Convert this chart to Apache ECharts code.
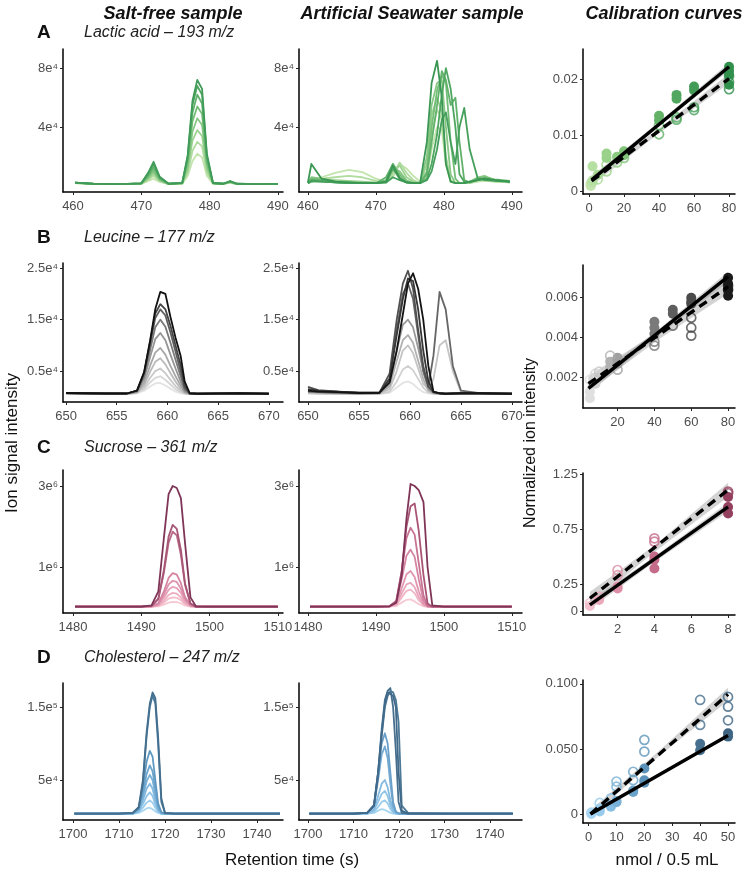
<!DOCTYPE html>
<html><head><meta charset="utf-8">
<script src="https://cdn.jsdelivr.net/npm/echarts@6/dist/echarts.min.js"></script>
<style>html,body{margin:0;padding:0;background:#fff}#c{width:750px;height:874px}</style>
</head><body><div id="c"></div><script>
// ---------------- DATA ----------------
// Row A: Lactic acid (193 m/z)
const A1_x = [460.3,463,467,470,471,471.8,472.7,474,476,476.8,477.5,478.2,478.9,479.6,480.5,482,483,484,487,490];
const A1_y = [
 [2000,1400,1300,1500,3500,5000,2800,1400,1600,7000,17000,22000,19500,7000,1700,1500,2200,1400,1300,1400],
 [2100,1400,1300,1600,4200,7000,3300,1400,1700,9000,24000,30000,27000,9000,1800,1500,2500,1400,1300,1400],
 [2200,1500,1300,1700,5000,8500,3800,1500,1800,11000,31000,38000,34000,11500,1800,1500,2600,1500,1300,1400],
 [2200,1500,1300,1700,5800,10000,4200,1500,1900,13500,37000,46000,41500,13800,1900,1500,2800,1500,1300,1500],
 [2300,1500,1400,1800,6500,11500,4700,1500,2000,16000,44000,54000,49000,16000,2000,1600,3000,1500,1400,1500],
 [2300,1500,1400,1800,7300,13000,5200,1600,2100,18000,50000,62000,56000,18500,2000,1600,3100,1500,1400,1500],
 [2400,1600,1400,1900,8200,15000,5800,1600,2200,20000,55000,68000,62000,20500,2100,1600,3300,1600,1400,1500],
 [2400,1600,1400,1900,9000,16500,6300,1600,2200,21000,58000,72000,66000,22000,2100,1600,3400,1600,1400,1500]
];
const A1_colors = ['#c3e4ad','#b1dca0','#9dd292','#88c884','#74bd77','#62b26c','#4fa661','#3f9b57'];

const A2_x = [460,460.5,462,464,466,468,470,471.5,472.5,473.5,474.5,475.5,476.5,477.5,478.2,479,479.7,480.3,481,481.7,482.3,483,483.8,485,486,487.5,489.7];
const A2_y = [
 [3000,4000,6000,9000,11000,9500,5000,3000,6000,15000,12000,7000,3000,6000,25000,40000,38000,15000,3000,2000,2000,2000,2000,3000,3500,3000,2500],
 [2500,3500,5000,6000,7000,6000,3500,2500,8000,16000,9000,4000,2000,9000,35000,52000,45000,15000,3000,2000,2000,2000,2000,4000,5000,3000,2500],
 [2000,3000,4000,4000,3500,3000,2500,2500,10000,14000,6000,3000,2000,15000,48000,60000,50000,20000,4000,2000,2000,2000,2500,5000,6000,3500,2500],
 [2500,6000,5000,3500,3000,2500,2000,3000,12000,10000,4000,2000,2000,20000,55000,70000,72000,40000,8000,2000,2000,2000,3000,6000,7000,4000,3000],
 [2000,5000,4500,3000,2500,2000,2000,4000,15000,8000,3000,2000,2000,10000,40000,65000,75000,70000,30000,5000,2000,2000,3000,5000,6000,4500,3500],
 [2000,3000,3000,2500,2000,2000,2000,6000,15000,6000,2500,2000,2000,8000,30000,55000,78000,72000,55000,60000,30000,4000,2500,5000,5000,4000,3000],
 [2000,4000,3500,2500,2000,2000,2000,2500,12000,5000,2500,2000,2000,5000,15000,35000,62000,80000,66000,40000,8000,3000,2500,4000,5000,4000,3000],
 [2000,3500,3000,2500,2000,2000,2000,2500,6000,4000,2500,2000,2000,4000,10000,25000,45000,50000,30000,15000,40000,53000,25000,5000,4000,3500,3000],
 [2500,15000,5000,3000,2500,2000,2000,3000,14000,5000,2500,2000,2000,30000,70000,85000,60000,15000,3000,2000,2000,2000,3000,4000,5000,4000,3000]
];
const A2_colors = ['#c3e4ad','#b1dca0','#9dd292','#88c884','#74bd77','#62b26c','#4fa661','#45a05c','#3a9653'];

const A3_levels = [1,2,5,10,16,20,40,50,60,80];
const A3_colors = ['#c3e4ad','#b6dfa2','#a9d997','#9bd28b','#8ecb82','#80c379','#63b268','#51a75f','#429c57','#32904d'];
const A3_filled = [[1,0.0015],[1,0.001],[2,0.0045],[2,0.002],[5,0.003],[10,0.0068],[10,0.006],[16,0.0062],[20,0.0072],[20,0.0065],[40,0.0135],[40,0.0127],[50,0.0172],[50,0.0165],[60,0.0187],[60,0.018],[80,0.0222],[80,0.0215],[80,0.0208],[80,0.019]];
const A3_hollow = [[1,0.0012],[2,0.0018],[5,0.0022],[10,0.0036],[10,0.0048],[16,0.0052],[20,0.006],[40,0.0102],[40,0.0118],[50,0.0128],[50,0.0132],[60,0.015],[60,0.0145],[80,0.0195],[80,0.0182],[80,0.0205]];
const A3_solid = [[1.5,0.0021],[80,0.0222]];
const A3_dash = [[1.5,0.0019],[80,0.0201]];
const A3_solidBand = {up:[[1.5,0.0028],[40,0.0124],[80,0.0229]], lo:[[1.5,0.0014],[40,0.0117],[80,0.0215]]};
const A3_dashBand = {up:[[1.5,0.0027],[40,0.0112],[80,0.021]], lo:[[1.5,0.0011],[40,0.0104],[80,0.0192]]};

// Row B: Leucine (177 m/z)
const B1_x = [650,652,654,656,657,657.7,658.3,658.8,659.3,659.8,660.3,660.8,661.3,661.7,662.2,663,665,667,670];
const B1_y = [
 [700,600,650,600,700,1200,2000,2600,2700,2200,1600,1000,700,600,550,600,600,650,600],
 [700,650,650,600,750,1500,2800,3700,4000,3300,2400,1500,900,650,550,600,600,650,600],
 [700,650,650,600,800,1800,3700,5000,5500,4600,3300,2100,1200,700,550,600,600,650,600],
 [700,650,650,600,850,2300,4900,6800,7500,6300,4600,3000,1600,800,550,600,600,650,600],
 [700,650,650,600,900,2800,6100,8600,9500,8200,6000,4000,2200,900,600,600,650,650,600],
 [700,650,650,650,1000,3500,7800,11200,12400,11000,8200,5500,3000,1100,600,600,650,650,600],
 [750,650,650,650,1100,4000,9200,13500,15000,13600,10500,7200,4000,1400,650,600,650,650,600],
 [750,700,650,650,1200,4500,10300,15300,17000,15800,12500,8800,5000,1700,650,600,650,700,600],
 [750,700,650,650,1200,4700,10800,16200,18000,17000,13800,10000,6200,2200,700,600,650,700,600],
 [750,700,650,650,1200,4800,11000,17000,20400,20000,15500,11500,8000,3000,700,600,650,700,600]
];
const B1_colors = ['#e3e3e3','#d6d6d6','#c9c9c9','#bababa','#a8a8a8','#959595','#7a7a7a','#5e5e5e','#444444','#111111'];

const B2_x = [650,651,653,655,657,658,658.7,659.3,659.8,660.3,660.8,661.3,661.8,662.3,662.9,663.5,664.2,665,667,670];
const B2_y = [
 [700,600,600,600,600,800,1800,2700,3000,2500,1600,900,700,600,600,600,600,600,600,600],
 [800,700,650,600,600,1000,3000,5300,6000,5200,3500,1800,800,600,600,600,600,600,600,600],
 [700,650,600,600,650,1500,5000,9000,10000,8500,5500,2500,1500,3500,10000,11000,5000,900,600,600],
 [900,800,700,650,700,2000,7000,11000,12000,10500,7000,3500,1200,700,600,600,600,600,650,600],
 [1100,900,800,700,700,2500,9000,14000,15000,13500,9500,5000,1500,800,600,600,600,650,650,600],
 [1000,900,800,700,750,3500,13000,20000,22000,19000,12000,5000,2000,8000,20400,17000,6000,1200,650,600],
 [1950,1300,1000,800,800,4500,15000,22000,24500,21000,13000,6000,2000,900,700,600,650,650,700,600],
 [1500,1200,1000,800,800,3500,12000,19000,23000,22500,17000,9000,3000,900,700,600,650,700,700,600],
 [1200,1000,900,750,800,2800,9000,16000,22000,24000,21000,15000,6000,1000,700,600,650,700,700,600]
];
const B2_colors = ['#e3e3e3','#d0d0d0','#c4c4c4','#b0b0b0','#9a9a9a','#666666','#505050','#363636','#141414'];

const B3_levels = [5,8,10,16,20,40,50,60,80];
const B3_colors = ['#e0e0e0','#d2d2d2','#c6c6c6','#b2b2b2','#a0a0a0','#7a7a7a','#5e5e5e','#4a4a4a','#1a1a1a'];
const B3_filled = [[5,0.00097],[5,0.0013],[8,0.0017],[10,0.002],[16,0.0025],[16,0.0028],[20,0.003],[20,0.0027],[40,0.0048],[40,0.0045],[40,0.0042],[50,0.0054],[50,0.0052],[60,0.006],[60,0.0058],[60,0.0057],[80,0.007],[80,0.0067],[80,0.0064],[80,0.0061]];
const B3_hollow = [[5,0.0019],[8,0.0022],[10,0.0023],[16,0.0031],[20,0.0024],[20,0.0029],[40,0.0038],[40,0.0036],[50,0.0046],[60,0.005],[60,0.0045],[60,0.0041],[80,0.0066],[80,0.0064]];
const B3_solid = [[4.2,0.00147],[80,0.00705]];
const B3_dash = [[4.2,0.0017],[80,0.00655]];
const B3_solidBand = {up:[[4.2,0.0018],[42,0.0044],[80,0.0073]], lo:[[4.2,0.0012],[42,0.0041],[80,0.0068]]};
const B3_dashBand = {up:[[4.2,0.0021],[42,0.0043],[80,0.0069]], lo:[[4.2,0.0013],[42,0.0039],[80,0.0062]]};

// Row C: Sucrose (361 m/z), intensities in units of 1e6
const C1_x = [1480.3,1485,1490,1491.5,1492.5,1493.3,1494,1494.6,1495.2,1495.8,1496.4,1497.2,1498,1500,1505,1510];
const C1_y = [
 [0.02,0.02,0.02,0.02,0.03,0.07,0.12,0.14,0.13,0.1,0.05,0.02,0.02,0.02,0.02,0.02],
 [0.02,0.02,0.02,0.02,0.04,0.12,0.22,0.25,0.24,0.18,0.08,0.03,0.02,0.02,0.02,0.02],
 [0.02,0.02,0.02,0.02,0.05,0.17,0.31,0.36,0.34,0.25,0.11,0.03,0.02,0.02,0.02,0.02],
 [0.02,0.02,0.02,0.02,0.06,0.24,0.44,0.51,0.48,0.36,0.16,0.04,0.02,0.02,0.02,0.02],
 [0.02,0.02,0.02,0.03,0.08,0.31,0.57,0.66,0.63,0.46,0.2,0.05,0.02,0.02,0.02,0.02],
 [0.02,0.02,0.02,0.03,0.1,0.39,0.73,0.85,0.81,0.6,0.26,0.06,0.02,0.02,0.02,0.02],
 [0.02,0.02,0.02,0.04,0.2,0.85,1.6,1.87,1.78,1.3,0.56,0.1,0.02,0.02,0.02,0.02],
 [0.02,0.02,0.02,0.04,0.22,0.92,1.75,2.04,1.94,1.42,0.6,0.1,0.02,0.02,0.02,0.02],
 [0.02,0.02,0.02,0.05,0.4,1.7,2.8,3.0,2.95,2.7,1.6,0.25,0.03,0.02,0.02,0.02]
];
const C1_colors = ['#f6c9d3','#f2bccb','#edafc2','#e7a1b8','#df92ad','#d584a2','#b86786','#a85676','#7f3557'];

const C2_x = [1480.3,1485,1490,1492,1493,1493.8,1494.5,1495.1,1495.7,1496.3,1497,1497.6,1498.3,1500,1505,1510];
const C2_y = [
 [0.02,0.02,0.02,0.02,0.04,0.12,0.19,0.2,0.15,0.08,0.03,0.02,0.02,0.02,0.02,0.02],
 [0.02,0.02,0.02,0.02,0.06,0.25,0.41,0.44,0.35,0.18,0.05,0.02,0.02,0.02,0.02,0.02],
 [0.02,0.02,0.02,0.03,0.08,0.35,0.57,0.61,0.5,0.26,0.07,0.02,0.02,0.02,0.02,0.02],
 [0.02,0.02,0.02,0.03,0.1,0.48,0.82,0.9,0.75,0.4,0.1,0.03,0.02,0.02,0.02,0.02],
 [0.02,0.02,0.02,0.03,0.14,0.7,1.28,1.43,1.25,0.7,0.18,0.03,0.02,0.02,0.02,0.02],
 [0.02,0.02,0.02,0.03,0.17,0.9,1.72,1.97,1.8,1.1,0.3,0.04,0.02,0.02,0.02,0.02],
 [0.02,0.02,0.02,0.03,0.15,0.9,2.0,2.5,2.57,1.9,0.8,0.1,0.02,0.02,0.02,0.02],
 [0.02,0.02,0.02,0.03,0.12,0.8,2.2,3.05,3.0,2.9,2.6,1.0,0.05,0.02,0.02,0.02]
];
const C2_colors = ['#f6c9d3','#f0b5c6','#e9a5bb','#e195b0','#d584a2','#c77394','#a95475','#7f3557'];

const C3_levels = [0.5,1,2,4,8];
const C3_colors = ['#f3c0cd','#eaa8bb','#dc8ea6','#c46b8a','#94405f'];
const C3_filled = [[0.5,0.05],[1,0.105],[2,0.225],[2,0.21],[4,0.5],[4,0.47],[4,0.39],[8,1.04],[8,0.95],[8,0.89]];
const C3_hollow = [[0.5,0.077],[1,0.135],[2,0.377],[2,0.33],[4,0.665],[4,0.635],[8,1.09],[8,1.075]];
const C3_solid = [[0.5,0.06],[8,0.95]];
const C3_dash = [[0.5,0.12],[8,1.105]];
const C3_solidBand = {up:[[0.5,0.1],[4,0.5],[8,0.99]], lo:[[0.5,0.02],[4,0.45],[8,0.91]]};
const C3_dashBand = {up:[[0.5,0.18],[4,0.6],[8,1.17]], lo:[[0.5,0.06],[4,0.54],[8,1.04]]};

// Row D: Cholesterol (247 m/z), intensities in units of 1e5
const D1_x = [1700.3,1705,1710,1713,1714.3,1715.2,1716,1716.7,1717.3,1717.9,1718.5,1719.2,1720,1722,1730,1745];
const D1_y = [
 [0.04,0.04,0.04,0.04,0.05,0.08,0.11,0.12,0.1,0.07,0.05,0.04,0.04,0.04,0.04,0.04],
 [0.04,0.04,0.04,0.04,0.06,0.12,0.19,0.22,0.19,0.12,0.06,0.04,0.04,0.04,0.04,0.04],
 [0.04,0.04,0.04,0.04,0.07,0.17,0.28,0.33,0.28,0.17,0.08,0.04,0.04,0.04,0.04,0.04],
 [0.04,0.04,0.04,0.04,0.08,0.22,0.38,0.45,0.38,0.22,0.09,0.04,0.04,0.04,0.04,0.04],
 [0.04,0.04,0.04,0.04,0.09,0.27,0.48,0.57,0.5,0.3,0.11,0.05,0.04,0.04,0.04,0.04],
 [0.04,0.04,0.04,0.04,0.1,0.32,0.58,0.7,0.62,0.38,0.14,0.05,0.04,0.04,0.04,0.04],
 [0.04,0.04,0.04,0.05,0.12,0.4,0.75,0.9,0.82,0.5,0.18,0.06,0.04,0.04,0.04,0.04],
 [0.04,0.04,0.04,0.05,0.12,0.45,1.1,1.5,1.66,1.55,1.0,0.2,0.05,0.04,0.04,0.04],
 [0.04,0.04,0.04,0.05,0.13,0.5,1.15,1.55,1.7,1.62,1.1,0.25,0.05,0.04,0.04,0.04]
];
const D1_colors = ['#a8d6f2','#9ccdec','#90c4e6','#84badf','#78b0d7','#6ca5cd','#5f99c2','#4a7a9c','#456f8e'];

const D2_x = [1700.3,1705,1710,1713,1714.5,1715.4,1716.2,1716.9,1717.5,1718.1,1718.7,1719.3,1719.9,1720.6,1722,1730,1745];
const D2_y = [
 [0.04,0.04,0.04,0.04,0.05,0.08,0.1,0.09,0.07,0.05,0.04,0.04,0.04,0.04,0.04,0.04,0.04],
 [0.04,0.04,0.04,0.04,0.06,0.13,0.2,0.22,0.18,0.1,0.05,0.04,0.04,0.04,0.04,0.04,0.04],
 [0.04,0.04,0.04,0.04,0.08,0.2,0.31,0.35,0.28,0.15,0.07,0.04,0.04,0.04,0.04,0.04,0.04],
 [0.04,0.04,0.04,0.04,0.1,0.28,0.45,0.5,0.4,0.22,0.09,0.05,0.04,0.04,0.04,0.04,0.04],
 [0.04,0.04,0.04,0.05,0.14,0.5,0.85,0.96,0.8,0.45,0.15,0.06,0.04,0.04,0.04,0.04,0.04],
 [0.04,0.04,0.04,0.05,0.16,0.6,1.0,1.14,1.0,0.6,0.2,0.07,0.04,0.04,0.04,0.04,0.04],
 [0.04,0.04,0.04,0.05,0.15,0.6,1.2,1.6,1.72,1.76,1.5,0.9,0.2,0.05,0.04,0.04,0.04],
 [0.04,0.04,0.04,0.05,0.15,0.55,1.1,1.5,1.65,1.72,1.7,1.6,1.3,0.15,0.05,0.04,0.04],
 [0.04,0.04,0.04,0.05,0.15,0.6,1.15,1.55,1.7,1.68,1.65,1.5,0.6,0.08,0.04,0.04,0.04]
];
const D2_colors = ['#a8d6f2','#9ccdec','#90c4e6','#84badf','#74aad3','#6aa0c9','#466f8e','#4d7896','#41698a'];

const D3_levels = [1,4,8,10,16,20,40,50];
const D3_colors = ['#a8d6f2','#98cbec','#86bde2','#78b0d7','#6aa2c9','#5c93ba','#47708f','#3f6583'];
const D3_filled = [[1,0],[1,0.001],[4,0.002],[4,0.004],[8,0.0056],[8,0.007],[10,0.01],[10,0.009],[16,0.018],[16,0.017],[20,0.035],[20,0.024],[20,0.026],[40,0.054],[40,0.049],[50,0.062],[50,0.0595]];
const D3_hollow = [[1,0.001],[4,0.0085],[8,0.012],[10,0.025],[10,0.021],[16,0.0325],[16,0.026],[20,0.057],[20,0.048],[40,0.0877],[40,0.0685],[50,0.09],[50,0.0825],[50,0.072]];
const D3_solid = [[0.7,0],[50,0.0603]];
const D3_dash = [[0.7,0],[50,0.092]];
const D3_solidBand = {up:[[0.7,0.0012],[25,0.0312],[50,0.0618]], lo:[[0.7,-0.0012],[25,0.0292],[50,0.0588]]};
const D3_dashBand = {up:[[0.7,0.003],[25,0.048],[50,0.097]], lo:[[0.7,-0.003],[25,0.044],[50,0.087]]};

// Tick values and labels
const A_xTicks = [460,470,480,490];
const A_yTicks = [40000,80000];       const A_yLabels = ['4e⁴','8e⁴'];
const B_xTicks = [650,655,660,665,670];
const B_yTicks = [5000,15000,25000];  const B_yLabels = ['0.5e⁴','1.5e⁴','2.5e⁴'];
const C_xTicks = [1480,1490,1500,1510];
const C_yTicks = [1,3];               const C_yLabels = ['1e⁶','3e⁶'];
const D_xTicks = [1700,1710,1720,1730,1740];
const D_yTicks = [0.5,1.5];           const D_yLabels = ['5e⁴','1.5e⁵'];
const A3_xTicks = [0,20,40,60,80];    const A3_yTicks = [0,0.01,0.02];   const A3_yLabels = ['0','0.01','0.02'];
const B3_xTicks = [20,40,60,80];      const B3_yTicks = [0.002,0.004,0.006]; const B3_yLabels = ['0.002','0.004','0.006'];
const C3_xTicks = [2,4,6,8];          const C3_yTicks = [0,0.25,0.75,1.25]; const C3_yLabels = ['0','0.25','0.75','1.25'];
const D3_xTicks = [0,10,20,30,40,50]; const D3_yTicks = [0,0.05,0.1]; const D3_yLabels = ['0','0.050','0.100'];

const titles = ['Salt-free sample','Artificial Seawater sample','Calibration curves'];
const rowLetters = ['A','B','C','D'];
const rowNames = ['Lactic acid – 193 m/z','Leucine – 177 m/z','Sucrose – 361 m/z','Cholesterol – 247 m/z'];

// ---------------- BUILD ----------------
const FONT = '"Liberation Sans", Arial, Helvetica, sans-serif';
const grids = [], xAxes = [], yAxes = [], series = [];

function lab(ticks, labels){
  return v => { const i = ticks.findIndex(t => Math.abs(t - v) < 1e-9); return i >= 0 ? (labels ? labels[i] : String(ticks[i])) : ''; };
}
function axis(min, max, ticks, labels, isX){
  return {
    type:'value', min, max,
    axisLine:{show:true, onZero:false, lineStyle:{color:'#000', width:1.5}},
    axisTick:{show:true, length:3, customValues:ticks, lineStyle:{color:'#222', width:1}},
    axisLabel:{show:true, customValues:ticks, formatter:lab(ticks, labels), color:'#4d4d4d', fontSize:13, fontFamily:FONT, margin: isX ? 8 : 5},
    splitLine:{show:false}
  };
}
function panel(rect, xr, yr, xt, xl, yt, yl){
  const i = grids.length;
  grids.push({left:rect[0], top:rect[1], width:rect[2], height:rect[3], containLabel:false});
  const xa = axis(xr[0], xr[1], xt, xl, true); xa.gridIndex = i;
  const ya = axis(yr[0], yr[1], yt, yl, false); ya.gridIndex = i;
  xAxes.push(xa); yAxes.push(ya);
  return i;
}
function traces(i, xs, ys, colors){
  ys.forEach((row, k) => {
    series.push({type:'line', xAxisIndex:i, yAxisIndex:i, data: xs.map((x, j) => [x, row[j]]),
      symbol:'none', showSymbol:false, silent:true, animation:false, z:2+k*0.01,
      lineStyle:{color:colors[k], width:1.8, join:'round'}, itemStyle:{color:colors[k]}});
  });
}
function band(i, b){
  series.push({type:'custom', xAxisIndex:i, yAxisIndex:i, silent:true, animation:false, z:1,
    data:[b.up[0]],
    renderItem:(p, api) => {
      const pts = b.up.map(q => api.coord(q)).concat(b.lo.slice().reverse().map(q => api.coord(q)));
      return {type:'polygon', shape:{points:pts}, style:{fill:'rgba(150,150,150,0.42)'}};
    }});
}
function points(i, pts, levels, colors, hollow){
  levels.forEach((lv, k) => {
    const d = pts.filter(p => p[0] === lv);
    if (!d.length) return;
    series.push({type:'scatter', xAxisIndex:i, yAxisIndex:i, data:d, silent:true, animation:false, z:3,
      symbol:'circle', symbolSize: hollow ? 9 : 10,
      itemStyle: hollow ? {color:'rgba(0,0,0,0)', borderColor:colors[k], borderWidth:1.7}
                        : {color:colors[k], opacity:1}});
  });
}
function reg(i, line, dashed){
  series.push({type:'line', xAxisIndex:i, yAxisIndex:i, data:line, symbol:'none', silent:true, animation:false, z:5,
    lineStyle:{color:'#000', width:3.4, type: dashed ? [9,6] : 'solid', cap:'butt'}});
}

const C1L = 63, C1W = 220, C2L = 299, C2W = 223, C3L = 583, C3W = 152;

// Row A
let p;
p = panel([C1L,49,C1W,143],[458.54,490.75],[-4000,93000],A_xTicks,null,A_yTicks,A_yLabels); traces(p,A1_x,A1_y,A1_colors);
p = panel([C2L,49,C2W,143],[458.68,491.5],[-4000,93000],A_xTicks,null,A_yTicks,A_yLabels); traces(p,A2_x,A2_y,A2_colors);
p = panel([C3L,49,C3W,145],[-3.43,83.4],[-0.00041,0.02535],A3_xTicks,null,A3_yTicks,A3_yLabels);
band(p,A3_solidBand); band(p,A3_dashBand);
points(p,A3_filled,A3_levels,A3_colors,false); points(p,A3_hollow,A3_levels,A3_colors,true);
reg(p,A3_solid,false); reg(p,A3_dash,true);

// Row B
p = panel([C1L,263,C1W,139],[649.7,671.4],[-1000,26000],B_xTicks,null,B_yTicks,B_yLabels); traces(p,B1_x,B1_y,B1_colors);
p = panel([C2L,263,C2W,139],[649.12,670.98],[-1000,26000],B_xTicks,null,B_yTicks,B_yLabels); traces(p,B2_x,B2_y,B2_colors);
p = panel([C3L,265,C3W,143],[1.25,83.75],[0.000485,0.007635],B3_xTicks,null,B3_yTicks,B3_yLabels);
band(p,B3_solidBand); band(p,B3_dashBand);
points(p,B3_filled,B3_levels,B3_colors,false); points(p,B3_hollow,B3_levels,B3_colors,true);
reg(p,B3_solid,false); reg(p,B3_dash,true);

// Row C
p = panel([C1L,470,C1W,143],[1478.54,1510.75],[-0.136,3.395],C_xTicks,null,C_yTicks,C_yLabels); traces(p,C1_x,C1_y,C1_colors);
p = panel([C2L,470,C2W,143],[1478.68,1511.5],[-0.136,3.395],C_xTicks,null,C_yTicks,C_yLabels); traces(p,C2_x,C2_y,C2_colors);
p = panel([C3L,473,C3W,142],[0.125,8.375],[-0.032,1.259],C3_xTicks,null,C3_yTicks,C3_yLabels);
band(p,C3_solidBand); band(p,C3_dashBand);
points(p,C3_filled,C3_levels,C3_colors,false); points(p,C3_hollow,C3_levels,C3_colors,true);
reg(p,C3_solid,false); reg(p,C3_dash,true);

// Row D
p = panel([C1L,683,C1W,137],[1697.83,1745.65],[-0.048,1.829],D_xTicks,null,D_yTicks,D_yLabels); traces(p,D1_x,D1_y,D1_colors);
p = panel([C2L,683,C2W,137],[1698.02,1747.03],[-0.048,1.829],D_xTicks,null,D_yTicks,D_yLabels); traces(p,D2_x,D2_y,D2_colors);
p = panel([C3L,680,C3W,143],[-2,52.5],[-0.0069,0.103],D3_xTicks,null,D3_yTicks,D3_yLabels);
band(p,D3_solidBand); band(p,D3_dashBand);
points(p,D3_filled,D3_levels,D3_colors,false); points(p,D3_hollow,D3_levels,D3_colors,true);
reg(p,D3_solid,false); reg(p,D3_dash,true);

// Text
const graphic = [];
const titleX = [173, 412, 664];
titles.forEach((t, k) => graphic.push({type:'text', x:titleX[k], y:14,
  style:{text:t, fontFamily:FONT, fontSize:18, fontWeight:'bold', fontStyle:'italic', fill:'#111', textAlign:'center', textVerticalAlign:'middle'}}));
const rowY = [33, 238, 448, 658];
rowLetters.forEach((t, k) => {
  graphic.push({type:'text', x:37, y:rowY[k], style:{text:t, fontFamily:FONT, fontSize:19, fontWeight:'bold', fill:'#111', textVerticalAlign:'middle'}});
  graphic.push({type:'text', x:84, y:rowY[k], style:{text:rowNames[k], fontFamily:FONT, fontSize:16, fontStyle:'italic', fill:'#222', textVerticalAlign:'middle'}});
});
graphic.push({type:'text', x:292, y:860, style:{text:'Retention time (s)', fontFamily:FONT, fontSize:17, fill:'#111', textAlign:'center', textVerticalAlign:'middle'}});
graphic.push({type:'text', x:667, y:860, style:{text:'nmol / 0.5 mL', fontFamily:FONT, fontSize:17, fill:'#111', textAlign:'center', textVerticalAlign:'middle'}});
graphic.push({type:'text', x:12, y:443, rotation:Math.PI/2, style:{text:'Ion signal intensity', fontFamily:FONT, fontSize:17, fill:'#111', textAlign:'center', textVerticalAlign:'middle'}});
graphic.push({type:'text', x:531, y:443, rotation:Math.PI/2, style:{text:'Normalized ion intensity', fontFamily:FONT, fontSize:16, fill:'#111', textAlign:'center', textVerticalAlign:'middle'}});

const chart = echarts.init(document.getElementById('c'), null, {renderer:'canvas'});
chart.setOption({animation:false, backgroundColor:'#fff', grid:grids, xAxis:xAxes, yAxis:yAxes, series, graphic});
</script></body></html>
